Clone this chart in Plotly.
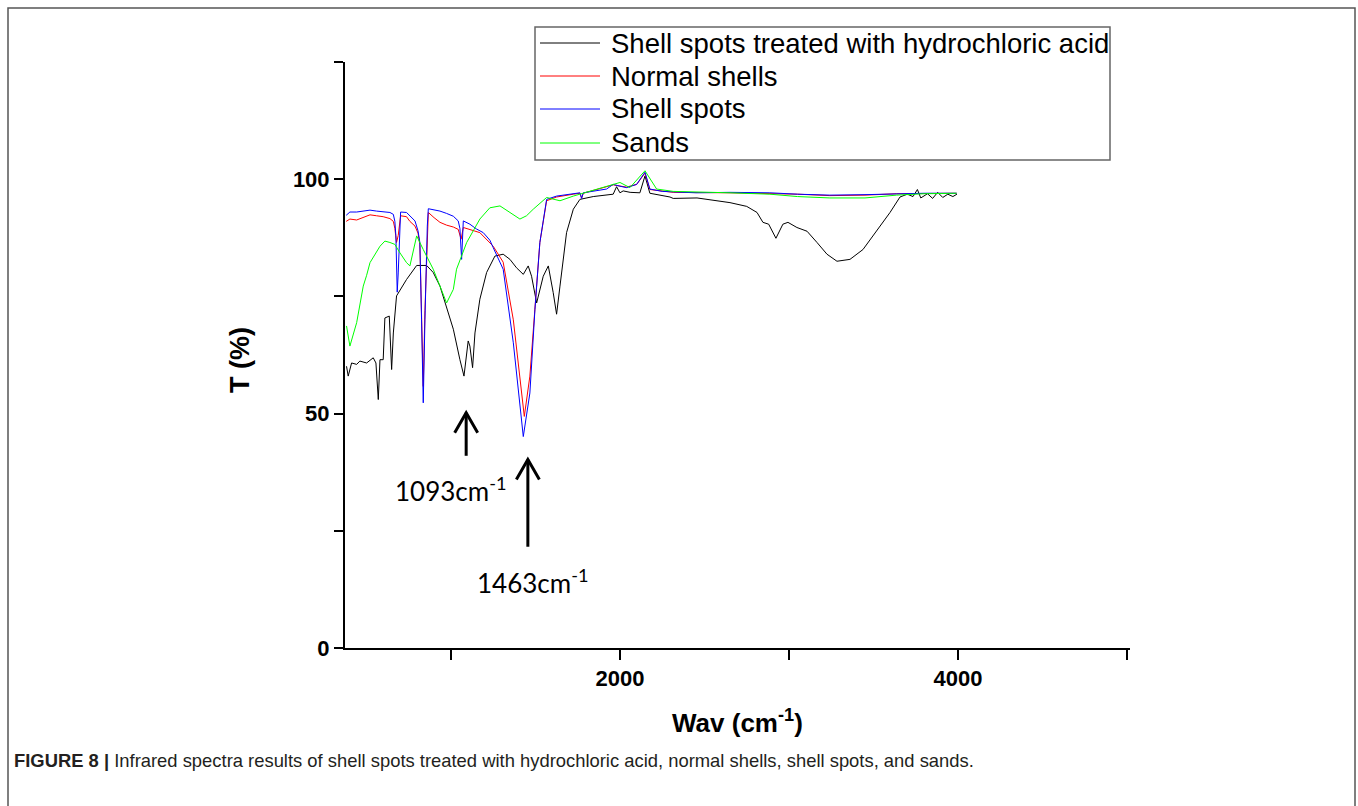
import plotly.graph_objects as go

# ---------------- data ----------------
series_names = ["Shell spots treated with hydrochloric acid", "Normal shells", "Shell spots", "Sands"]
series_colors = ["#000000", "#ff0000", "#0000ff", "#00ff00"]

hcl_x = [382, 392, 412, 442, 461, 501, 540, 556, 570, 580, 599, 609, 635, 649, 659, 678, 737, 797, 856, 895,
         935, 974, 1014, 1053, 1077, 1102, 1112, 1128, 1142, 1171, 1211, 1260, 1309, 1349, 1388, 1428, 1457,
         1477, 1507, 1546, 1576, 1605, 1625, 1645, 1684, 1724, 1763, 1842, 1960, 1980, 2000, 2019, 2060,
         2118, 2148, 2177, 2240, 2296, 2315, 2456, 2651, 2750, 2811, 2846, 2880, 2923, 2964, 2994, 3047,
         3107, 3166, 3225, 3284, 3361, 3438, 3538, 3598, 3657, 3700, 3734, 3760, 3780, 3820, 3850, 3880,
         3910, 3940, 3970, 3994]
hcl_y = [60.1, 58.0, 60.8, 60.5, 61.2, 60.8, 61.9, 60.8, 53.0, 61.5, 61.5, 70.4, 70.8, 59.4, 67.2, 75.1, 78.6,
         81.6, 81.6, 80.1, 77.2, 72.9, 68.0, 61.5, 58.0, 65.5, 64.4, 59.8, 67.2, 74.4, 80.1, 83.6, 84.0, 82.9,
         81.1, 79.7, 81.5, 79.3, 73.6, 79.3, 81.5, 75.8, 71.2, 77.2, 88.6, 93.6, 95.7, 96.3, 96.8, 98.4, 97.1,
         97.5, 97.2, 97.1, 100.7, 97.0, 96.6, 96.2, 95.9, 96.0, 95.0, 94.2, 92.9, 90.8, 90.4, 87.4, 90.4,
         90.8, 89.7, 88.9, 86.5, 84.0, 82.5, 82.9, 85.0, 90.0, 92.9, 96.2, 96.8, 96.3, 97.8, 96.0, 96.9,
         95.9, 97.2, 96.1, 96.8, 96.3, 96.8]

normal_x = [380, 402, 442, 481, 521, 560, 599, 639, 659, 668, 678, 688, 702, 737, 757, 787, 805, 816, 826,
            836, 846, 856, 866, 900, 935, 974, 1014, 1043, 1060, 1073, 1112, 1171, 1250, 1309, 1369, 1418,
            1434, 1467, 1497, 1526, 1566, 1625, 1724, 1763, 1773, 1783, 1960, 2000, 2039, 2099, 2148, 2177,
            2315, 2651, 2887, 3050, 3242, 3450, 3637, 3800, 3992]
normal_y = [91.0, 91.5, 91.3, 91.8, 92.4, 92.2, 92.0, 91.6, 91.0, 89.5, 86.5, 88.0, 92.2, 92.0, 91.0, 90.0,
            88.5, 86.0, 72.0, 55.8, 72.0, 85.0, 92.9, 91.8, 90.8, 90.2, 89.8, 89.3, 87.2, 89.7, 89.2, 88.6,
            85.7, 82.3, 70.0, 54.4, 49.4, 58.0, 72.2, 86.5, 95.4, 96.2, 96.8, 97.0, 96.0, 97.0, 98.8, 98.6,
            98.3, 98.9, 101.3, 97.8, 97.2, 97.1, 97.0, 96.8, 96.5, 96.6, 96.9, 97.0, 97.0]

spots_x = [380, 402, 442, 481, 521, 560, 599, 639, 659, 668, 674, 682, 688, 694, 702, 737, 757, 787, 805, 816,
           826, 836, 846, 852, 860, 866, 900, 935, 974, 1014, 1043, 1053, 1063, 1068, 1073, 1112, 1150, 1191,
           1230, 1250, 1280, 1309, 1369, 1408, 1428, 1467, 1497, 1526, 1566, 1625, 1724, 1763, 1773, 1783,
           1921, 1960, 2000, 2039, 2099, 2148, 2177, 2250, 2315, 2450, 2651, 2887, 3050, 3242, 3450, 3637,
           3800, 3992]
spots_y = [92.3, 93.0, 93.0, 93.2, 93.4, 93.2, 93.0, 92.9, 92.5, 91.0, 88.0, 75.9, 80.0, 88.0, 93.0, 92.9,
           92.2, 91.1, 89.0, 86.5, 70.0, 52.3, 70.0, 80.0, 90.0, 93.7, 93.5, 93.2, 92.7, 92.1, 91.1, 89.5,
           82.9, 88.0, 91.1, 90.4, 89.4, 88.6, 87.0, 85.4, 83.0, 80.8, 65.1, 50.8, 45.1, 54.4, 72.2, 86.5,
           95.7, 96.4, 96.8, 97.1, 95.9, 97.1, 97.9, 98.9, 98.5, 98.2, 98.9, 101.5, 97.9, 97.4, 97.3, 97.1,
           97.2, 97.1, 96.8, 96.6, 96.7, 96.9, 97.0, 97.0]

sands_x = [382, 402, 442, 461, 481, 501, 521, 580, 609, 639, 668, 698, 737, 757, 797, 836, 895, 935, 974,
           1014, 1033, 1093, 1171, 1230, 1290, 1349, 1408, 1447, 1487, 1566, 1645, 1724, 1921, 2000, 2059,
           2148, 2217, 2315, 2651, 2887, 3050, 3242, 3450, 3637, 3800, 3992]
sands_y = [68.7, 64.4, 69.4, 73.6, 77.2, 79.5, 82.2, 85.7, 86.8, 86.5, 86.1, 84.3, 82.2, 81.5, 87.9, 85.0,
           80.8, 77.2, 73.6, 76.5, 80.8, 86.5, 91.5, 93.9, 94.3, 92.9, 91.5, 92.2, 93.6, 96.1, 95.4, 96.4,
           98.4, 99.3, 98.2, 101.8, 97.9, 97.4, 97.1, 96.8, 96.3, 96.0, 96.0, 96.6, 96.9, 97.0]

x_tick_vals = [1000, 2000, 3000, 4000, 5000]
x_tick_text = ["", "2000", "", "4000", ""]
y_tick_vals = [0, 25, 50, 75, 100, 125]
y_tick_text = ["0", "", "50", "", "100", ""]

peak_labels = ["1093cm<sup>-1</sup>", "1463cm<sup>-1</sup>"]
arrow_x = [1090, 1455]
arrow_tip_y = [50.2, 40.2]
arrow_tail_y = [41.0, 21.6]
label_x = [1000, 1485]
label_y = [33.8, 14.2]

caption = ("<b>FIGURE 8 |</b> Infrared spectra results of shell spots treated with hydrochloric acid, "
           "normal shells, shell spots, and sands.")

# ---------------- layout geometry ----------------
W, H = 1358, 806
L, R, T, B = 345, 1130, 62, 648


def px_to_paper_x(px):
    return (px - L) / (R - L)


def px_to_paper_y(py):
    return (B - py) / (B - T)


fig = go.Figure()
all_x = [hcl_x, normal_x, spots_x, sands_x]
all_y = [hcl_y, normal_y, spots_y, sands_y]
for name, color, xs, ys in zip(series_names, series_colors, all_x, all_y):
    fig.add_trace(go.Scatter(x=xs, y=ys, mode="lines", name=name,
                             line=dict(color=color, width=1)))

SANS = "Liberation Sans, Arial, sans-serif"
axis_font = dict(family=SANS, size=22, color="#000", weight="bold")

fig.update_layout(
    width=W, height=H,
    margin=dict(l=L, r=W - R, t=T, b=H - B),
    paper_bgcolor="white", plot_bgcolor="white",
    font=dict(family=SANS, color="#000"),
    showlegend=False,
    xaxis=dict(range=[373, 5018], tickvals=x_tick_vals, ticktext=x_tick_text,
               ticks="outside", ticklen=10, tickwidth=2, tickcolor="#000",
               showline=True, linewidth=2, linecolor="#000", mirror=False,
               showgrid=False, zeroline=False, tickfont=axis_font),
    yaxis=dict(range=[0, 125], tickvals=y_tick_vals, ticktext=y_tick_text,
               ticks="outside", ticklen=9, tickwidth=2, tickcolor="#000",
               showline=True, linewidth=2, linecolor="#000", mirror=False,
               showgrid=False, zeroline=False, tickfont=axis_font),
)

annotations = []
shapes = []

# axis titles
annotations.append(dict(text="T (%)", x=px_to_paper_x(240), y=px_to_paper_y(360), xref="paper", yref="paper",
                        xanchor="center", yanchor="middle", showarrow=False, textangle=-90,
                        font=dict(family=SANS, size=27, weight="bold")))
annotations.append(dict(text="Wav (cm<sup>-1</sup>)", x=px_to_paper_x(737), y=px_to_paper_y(722),
                        xref="paper", yref="paper", xanchor="center", yanchor="middle", showarrow=False,
                        font=dict(family=SANS, size=26, weight="bold")))

# peak arrows (shaft + open V head) and labels
for lab, axx, tip, tail, lx, ly in zip(peak_labels, arrow_x, arrow_tip_y, arrow_tail_y, label_x, label_y):
    shapes.append(dict(type="line", xref="x", yref="y", x0=axx, x1=axx, y0=tail, y1=tip,
                       line=dict(color="#000", width=3)))
    shapes.append(dict(type="path", xref="x", yref="y", xsizemode="pixel", ysizemode="pixel",
                       xanchor=axx, yanchor=tip, path="M-11.5,-20 L0,0 L11.5,-20",
                       line=dict(color="#000", width=3)))
    annotations.append(dict(text=lab, x=lx, y=ly, xref="x", yref="y", showarrow=False,
                            xanchor="center", yanchor="middle",
                            font=dict(family="Lato, Open Sans, sans-serif", size=26, color="#000")))

# legend box drawn by hand (tight row spacing as in the reference)
leg_left, leg_right, leg_top, leg_bottom = 535, 1110, 27, 160
leg_rows = [43, 76, 109, 143]
shapes.append(dict(type="rect", xref="paper", yref="paper",
                   x0=px_to_paper_x(leg_left), x1=px_to_paper_x(leg_right),
                   y0=px_to_paper_y(leg_bottom), y1=px_to_paper_y(leg_top),
                   line=dict(color="#666666", width=1.5), fillcolor="white", layer="above"))
for name, color, row in zip(series_names, series_colors, leg_rows):
    shapes.append(dict(type="line", xref="paper", yref="paper",
                       x0=px_to_paper_x(540), x1=px_to_paper_x(600),
                       y0=px_to_paper_y(row), y1=px_to_paper_y(row),
                       line=dict(color=color, width=1)))
    annotations.append(dict(text=name, x=px_to_paper_x(609), y=px_to_paper_y(row), xref="paper", yref="paper",
                            xanchor="left", yanchor="middle", showarrow=False,
                            font=dict(family=SANS, size=27.5, color="#000")))

# caption
annotations.append(dict(text=caption, x=px_to_paper_x(12), y=px_to_paper_y(760), xref="paper", yref="paper",
                        xanchor="left", yanchor="middle", showarrow=False,
                        font=dict(family=SANS, size=18.4, color="#231f20")))

# outer frame of the figure panel
shapes.append(dict(type="rect", xref="paper", yref="paper",
                   x0=px_to_paper_x(8), x1=px_to_paper_x(1355), y0=px_to_paper_y(820), y1=px_to_paper_y(8),
                   line=dict(color="#555555", width=1.5), fillcolor="rgba(0,0,0,0)", layer="below"))

fig.update_layout(annotations=annotations, shapes=shapes)
fig.write_html("out.html")
